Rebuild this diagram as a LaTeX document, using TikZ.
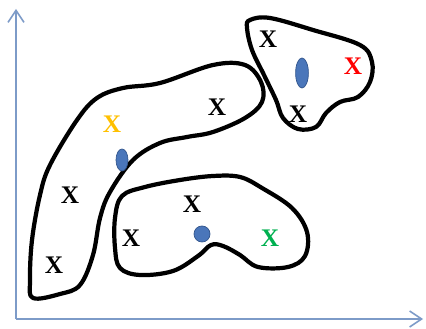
\documentclass[tikz,border=0pt]{standalone}
\usepackage{fontspec}
\setmainfont{Liberation Serif}
\usetikzlibrary{arrows.meta,shapes.geometric}
\definecolor{axisblue}{RGB}{125,155,200}
\definecolor{dotblue}{RGB}{74,118,186}
\definecolor{dotedge}{RGB}{50,85,140}
\definecolor{xyellow}{RGB}{255,192,0}
\definecolor{xgreen}{RGB}{0,176,80}
\begin{document}
\begin{tikzpicture}[
  x=0.25mm, y=-0.25mm,
  every node/.style={font=\fontsize{18}{18}\selectfont\bfseries},
  blob/.style={draw, line width=3pt, line join=round},
  centre/.style={ellipse, draw=dotedge, fill=dotblue, line width=0.5pt, inner sep=0pt},
  axis/.style={draw=axisblue, line width=1.1pt, -{Straight Barb[length=3mm, width=4mm]}}
]
\useasboundingbox (0,0) rectangle (426,329);
% axes
\coordinate (o) at (16,319);
\coordinate (ytop) at (16,9);
\coordinate (xend) at (423,319);
\draw[axis] (o) -- (ytop);
\draw[axis] (o) -- (xend);
% long cluster
\draw[blob] plot[smooth cycle, tension=0.6] coordinates {
  (97,98) (123,88) (160,83) (213,65) (245,65) (261,82) (262,102) (245,118)
  (213,132) (187,137) (160,143) (133,160) (110,192) (100,218) (93,255)
  (80,285) (60,294) (33,298) (30,280) (32,240) (40,195) (50,165) (77,120)};
\node[text=xyellow] (xa1) at (112,124) {X};
\node (xa2) at (217,107) {X};
\node (xa3) at (70,195) {X};
\node (xa4) at (54,265) {X};
\node[centre, minimum width=3mm, minimum height=5.5mm] (ca) at (122,160) {};
% upper right cluster
\draw[blob] plot[smooth cycle, tension=0.6] coordinates {
  (250,20) (270,18) (313,30) (360,45) (372,62) (370,82) (358,97) (340,102)
  (326,113) (316,127) (298,129) (283,118) (276,100) (264,75) (252,50) (247,28)};
\node (xb1) at (268,39) {X};
\node[text=red] (xb2) at (353,66) {X};
\node (xb3) at (298,114) {X};
\node[centre, minimum width=3.2mm, minimum height=7.5mm] (cb) at (302,73) {};
% lower cluster
\draw[blob] plot[smooth cycle, tension=0.6] coordinates {
  (122,196) (145,187) (180,180) (213,176) (240,177) (262,188) (292,208)
  (307,232) (305,256) (288,267) (258,267) (240,255) (223,246) (211,245)
  (198,256) (173,271) (140,275) (120,268) (115,248) (115,218)};
\node (xc1) at (192,204) {X};
\node (xc2) at (131,238) {X};
\node[text=xgreen] (xc3) at (270,238) {X};
\node[centre, minimum width=4mm, minimum height=4mm] (cc) at (202,234) {};
\end{tikzpicture}
\end{document}
